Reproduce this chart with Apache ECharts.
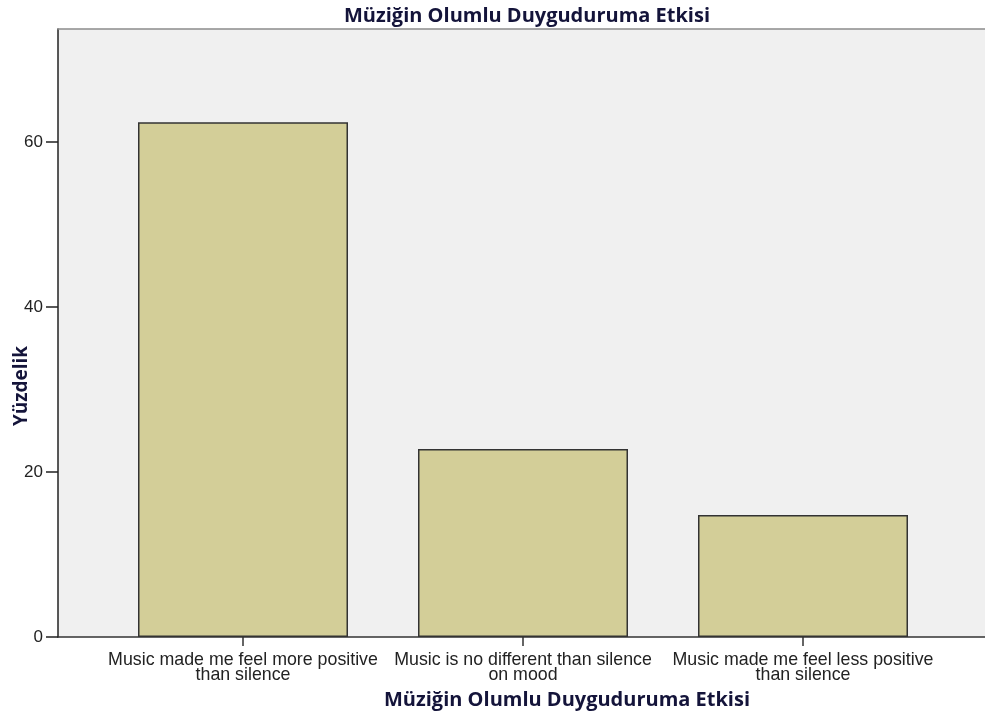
<!DOCTYPE html>
<html>
<head>
<meta charset="utf-8">
<title>Müziğin Olumlu Duyguduruma Etkisi</title>
<script src="https://cdn.jsdelivr.net/npm/echarts@6/dist/echarts.min.js"></script>
<style>
  html, body { margin: 0; padding: 0; background: #fff; }
  #chart { width: 985px; height: 717px; }
</style>
</head>
<body>
<div id="chart"></div>
<script>
// kategoriler ve yüzdeler
var categories = [
  'Music made me feel more positive\nthan silence',
  'Music is no different than silence\non mood',
  'Music made me feel less positive\nthan silence'
];
var percents = [62.4, 22.8, 14.8];
var yTicks = [0, 20, 40, 60];
var yMax = 73.7;

var titleText = 'Müziğin Olumlu Duyguduruma Etkisi';
var yName = 'Yüzdelik';

var myChart = echarts.init(document.getElementById('chart'));

myChart.setOption({
  animation: false,
  title: [
    {
      text: titleText,
      left: 522,
      top: 1,
      textAlign: 'center',
      textStyle: { fontFamily: 'Open Sans', fontWeight: 'bold', fontSize: 20, color: '#14143a' }
    },
    {
      text: titleText,
      left: 562,
      top: 685,
      textAlign: 'center',
      textStyle: { fontFamily: 'Open Sans', fontWeight: 'bold', fontSize: 20, color: '#14143a' }
    }
  ],
  graphic: [
    {
      type: 'text',
      x: 22,
      y: 386,
      rotation: Math.PI / 2,
      style: {
        text: yName,
        fontFamily: 'Open Sans',
        fontWeight: 'bold',
        fontSize: 19,
        fill: '#14143a',
        align: 'center',
        verticalAlign: 'middle'
      }
    }
  ],
  grid: [
    // ana çerçeve ve arka plan
    { left: 58, right: 0, top: 29, bottom: 80, show: true, backgroundColor: '#f0f0f0', borderWidth: 0 },
    // kategori alanı
    { left: 103, right: 42, top: 29, bottom: 80 }
  ],
  xAxis: [
    {
      gridIndex: 0, type: 'value', min: 0, max: 1, position: 'bottom',
      axisLine: { show: true, lineStyle: { color: '#333', width: 1.5 } },
      axisTick: { show: false }, axisLabel: { show: false }, splitLine: { show: false }
    },
    {
      gridIndex: 0, type: 'value', min: 0, max: 1, position: 'top',
      axisLine: { show: true, lineStyle: { color: '#8c8c8c', width: 1.5 } },
      axisTick: { show: false }, axisLabel: { show: false }, splitLine: { show: false }
    },
    {
      gridIndex: 1, type: 'category', data: categories,
      axisLine: { show: false },
      axisTick: { show: true, alignWithLabel: true, length: 9, lineStyle: { color: '#333', width: 1.5 } },
      axisLabel: {
        margin: 16, fontFamily: 'Liberation Sans', fontSize: 17.8, color: '#222', lineHeight: 15, interval: 0
      }
    }
  ],
  yAxis: [
    {
      gridIndex: 0, type: 'value', min: 0, max: yMax,
      axisLine: { show: true, lineStyle: { color: '#222', width: 1.5 } },
      axisTick: { show: true, length: 12, customValues: yTicks, lineStyle: { color: '#222', width: 1.5 } },
      axisLabel: { customValues: yTicks, margin: 15, fontFamily: 'Liberation Sans', fontSize: 17, color: '#222' },
      splitLine: { show: false }
    },
    {
      gridIndex: 1, type: 'value', min: 0, max: yMax, show: false
    }
  ],
  series: [
    {
      name: yName,
      type: 'bar',
      xAxisIndex: 2,
      yAxisIndex: 1,
      data: percents,
      barWidth: 210,
      itemStyle: { color: '#d3ce98', borderColor: '#333', borderWidth: 1.5 }
    }
  ]
});
</script>
</body>
</html>
